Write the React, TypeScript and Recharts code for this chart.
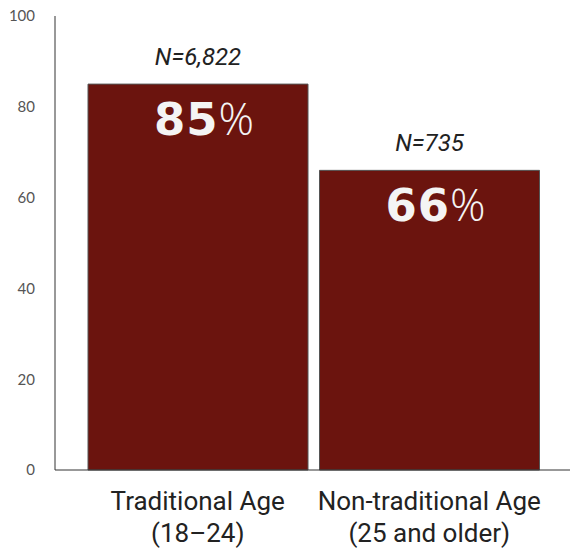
import { BarChart, Bar, XAxis, YAxis, LabelList } from 'recharts'

const categories = ['Traditional Age', 'Non-traditional Age']
const subLabels = ['(18–24)', '(25 and older)']
const shares = [85, 66]
const sampleSizes = ['N=6,822', 'N=735']
const yTicks = [0, 20, 40, 60, 80, 100]

const data = categories.map((c, i) => ({ name: c, sub: subLabels[i], value: shares[i], n: sampleSizes[i] }))

const FONT = 'Roboto, sans-serif'

const CategoryTick = ({ x, y, payload, index }: any) => (
  <text x={x} y={y} textAnchor="middle" fill="#222" fontFamily={FONT} fontSize={26}>
    <tspan x={x} dy={32}>{payload.value}</tspan>
    <tspan x={x} dy={32}>{subLabels[index]}</tspan>
  </text>
)

const NLabel = ({ x, y, width, index }: any) => (
  <text x={x + width / 2} y={y - 19} textAnchor="middle" fill="#222" fontFamily={FONT} fontStyle="italic" fontSize={24}>
    {sampleSizes[index]}
  </text>
)

const PctLabel = ({ x, y, width, index }: any) => (
  <text x={x + width / 2 + 6} y={y + 51} textAnchor="middle" fill="#f4f4f4" fontFamily="'DejaVu Sans', sans-serif">
    <tspan fontWeight={700} fontSize={45} letterSpacing={1}>{shares[index]}</tspan>
    <tspan fontFamily="'Open Sans', sans-serif" fontWeight={300} fontSize={44}>%</tspan>
  </text>
)

export default function App() {
  return (
    <div style={{ position: 'absolute', left: 0, top: 0, background: '#fff' }}>
      <BarChart width={570} height={550} data={data} margin={{ top: 16, right: 0, left: 0, bottom: 0 }}>
        <XAxis dataKey="name" height={80} padding={{ left: 27, right: 25 }} axisLine={{ stroke: '#333' }} tickLine={false} interval={0} tick={<CategoryTick />} />
        <YAxis domain={[0, 100]} ticks={yTicks} width={55} axisLine={{ stroke: '#333' }} tickLine={false} tickMargin={14} tick={{ fill: '#555', fontSize: 15, fontFamily: 'Lato, sans-serif' }} />
        <Bar dataKey="value" fill="#6b140e" stroke="#555" strokeWidth={1} barSize={220} isAnimationActive={false}>
          <LabelList dataKey="n" content={<NLabel />} />
          <LabelList dataKey="value" content={<PctLabel />} />
        </Bar>
      </BarChart>
    </div>
  )
}
